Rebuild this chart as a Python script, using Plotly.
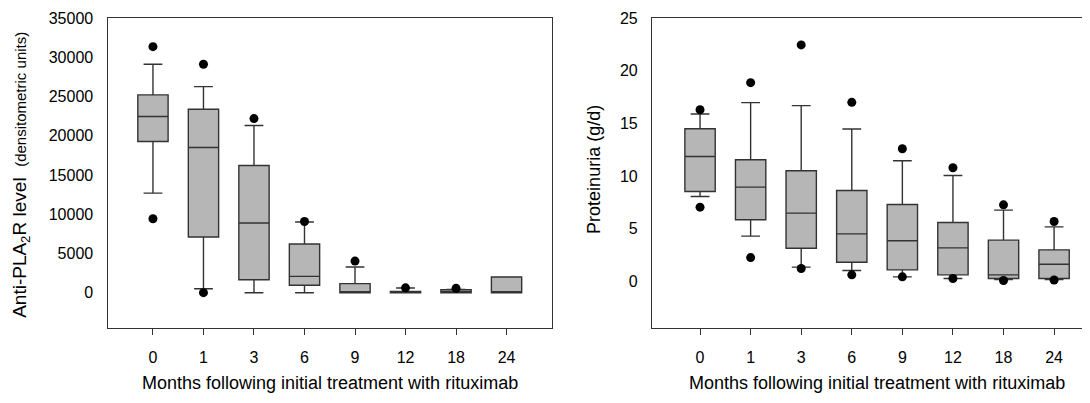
import plotly.graph_objects as go

months = ["0", "1", "3", "6", "9", "12", "18", "24"]

# Left panel: anti-PLA2R level (densitometric units)
pla_lower = [12690, 510, 0, 0, 0, 0, 0, 0]
pla_q1 = [19260, 7090, 1650, 940, 0, 0, 0, 0]
pla_median = [22440, 18500, 8870, 2080, 0, 0, 0, 0]
pla_q3 = [25200, 23380, 16200, 6200, 1150, 170, 380, 2000]
pla_upper = [29100, 26260, 21300, 9000, 3270, 600, 400, 2000]
pla_dot_x = ["0", "0", "1", "1", "3", "6", "9", "12", "18"]
pla_dot_y = [31350, 9420, 29100, 0, 22180, 9070, 4030, 620, 550]
pla_ticks = [0, 5000, 10000, 15000, 20000, 25000, 30000, 35000]
pla_ticktext = ["0", "5000", "10000", "15000", "20000", "25000", "30000", "35000"]

# Right panel: proteinuria (g/d)
pro_lower = [8.07, 4.31, 1.37, 1.05, 0.45, 0.29, 0.20, 0.20]
pro_q1 = [8.55, 5.86, 3.17, 1.84, 1.11, 0.64, 0.29, 0.29]
pro_median = [11.87, 8.96, 6.49, 4.53, 3.87, 3.20, 0.64, 1.65]
pro_q3 = [14.50, 11.56, 10.51, 8.64, 7.31, 5.60, 3.93, 3.01]
pro_upper = [15.90, 16.97, 16.69, 14.47, 11.46, 10.07, 6.78, 5.19]
pro_dot_x = ["0", "0", "1", "1", "3", "3", "6", "6", "9", "9", "12", "12", "18", "18", "24", "24"]
pro_dot_y = [16.3, 7.06, 18.87, 2.28, 22.45, 1.24, 17.0, 0.64, 12.6, 0.45, 10.8, 0.29, 7.28, 0.10, 5.7, 0.15]
pro_ticks = [0, 5, 10, 15, 20, 25]
pro_ticktext = ["0", "5", "10", "15", "20", "25"]

LINE = "#333333"
FILL = "#b6b6b6"
FONT = "Liberation Sans, Arial, sans-serif"
TXT = "#000000"

# page body has an 8px default margin; size the figure to fill the rest
W, H = 1082, 395

fig = go.Figure()

fig.add_trace(go.Box(
    x=months, q1=pla_q1, median=pla_median, q3=pla_q3,
    lowerfence=pla_lower, upperfence=pla_upper,
    fillcolor=FILL, line=dict(color=LINE, width=1.4),
    width=0.6, whiskerwidth=0.62, boxpoints=False,
    xaxis="x", yaxis="y", showlegend=False, hoverinfo="skip"))
fig.add_trace(go.Scatter(
    x=pla_dot_x, y=pla_dot_y, mode="markers",
    marker=dict(color="black", size=9),
    xaxis="x", yaxis="y", showlegend=False, hoverinfo="skip"))

fig.add_trace(go.Box(
    x=months, q1=pro_q1, median=pro_median, q3=pro_q3,
    lowerfence=pro_lower, upperfence=pro_upper,
    fillcolor=FILL, line=dict(color=LINE, width=1.4),
    width=0.6, whiskerwidth=0.62, boxpoints=False,
    xaxis="x2", yaxis="y2", showlegend=False, hoverinfo="skip"))
fig.add_trace(go.Scatter(
    x=pro_dot_x, y=pro_dot_y, mode="markers",
    marker=dict(color="black", size=9),
    xaxis="x2", yaxis="y2", showlegend=False, hoverinfo="skip"))

xcommon = dict(type="category", categoryorder="array", categoryarray=months,
               showline=True, linecolor=LINE, linewidth=1.2, showgrid=False,
               zeroline=False, ticks="outside", ticklen=6, tickcolor=LINE,
               tickfont=dict(family=FONT, size=16, color=TXT),
               ticklabelstandoff=9)
ycommon = dict(showline=True, linecolor=LINE, linewidth=1.2, showgrid=False,
               zeroline=False, ticks="", tickfont=dict(family=FONT, size=16, color=TXT),
               ticklabelstandoff=10)

fig.update_layout(
    width=W, height=H,
    margin=dict(l=0, r=0, t=10, b=75),
    paper_bgcolor="white", plot_bgcolor="white",
    font=dict(family=FONT, color=TXT),
    xaxis=dict(domain=[99.5 / W, 544 / W], range=[-0.9, 7.9], mirror=True, anchor="y", **xcommon),
    yaxis=dict(domain=[0, 1], range=[-4500, 35000], tickvals=pla_ticks, ticktext=pla_ticktext,
               mirror=True, anchor="x", **ycommon),
    xaxis2=dict(domain=[644 / W, 1.0], range=[-0.95, 7.71], mirror=True, anchor="y2", **xcommon),
    yaxis2=dict(domain=[0, 1], range=[-4.4, 25], tickvals=pro_ticks, ticktext=pro_ticktext,
                mirror=False, anchor="x2", **ycommon),
)

annotations = [
    dict(text="Months following initial treatment with rituximab", xref="x domain", yref="paper",
         x=0.5, y=-0.177, xanchor="center", yanchor="middle", showarrow=False,
         font=dict(family=FONT, size=18, color=TXT)),
    dict(text="Months following initial treatment with rituximab", xref="x2 domain", yref="paper",
         x=0.514, y=-0.177, xanchor="center", yanchor="middle", showarrow=False,
         font=dict(family=FONT, size=18, color=TXT)),
    dict(text="Anti-PLA<sub>2</sub>R level  <span style='font-size:15px'>(densitometric units)</span>",
         xref="paper", yref="paper", x=(21 - 8) / W, y=0.494, xanchor="center", yanchor="middle",
         textangle=-90, showarrow=False, font=dict(family=FONT, size=19, color=TXT)),
    dict(text="Proteinuria (g/d)",
         xref="paper", yref="paper", x=(594 - 8) / W, y=0.51, xanchor="center", yanchor="middle",
         textangle=-90, showarrow=False, font=dict(family=FONT, size=18, color=TXT)),
]
fig.update_layout(annotations=annotations)

fig.write_html("out.html")
